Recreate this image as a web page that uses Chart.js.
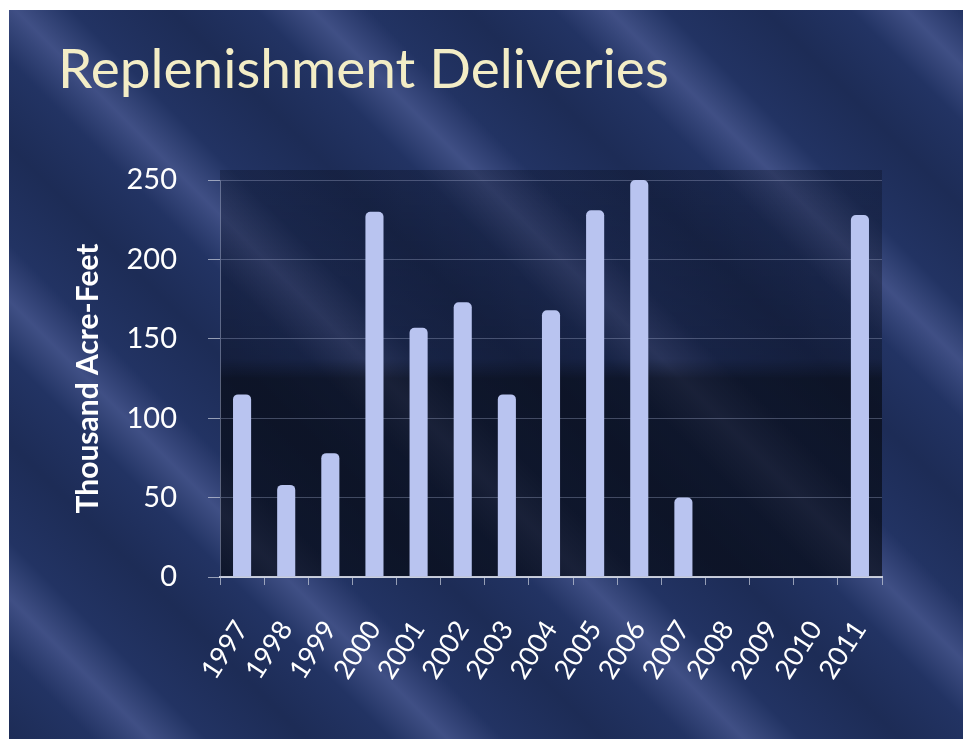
<!DOCTYPE html>
<html>
<head>
<meta charset="utf-8">
<script src="https://cdn.jsdelivr.net/npm/chart.js@4.4.1/dist/chart.umd.min.js"></script>
<style>
  html, body { margin: 0; padding: 0; background: #ffffff; }
  body { width: 963px; height: 739px; position: relative; overflow: hidden; }
  #bg {
    position: absolute; left: 9px; top: 10px; width: 954px; height: 729px;
    background:
      repeating-linear-gradient(45deg,
        rgba(10, 18, 40, 0.30) 0px, rgba(10, 18, 40, 0.10) 60px,
        rgba(125, 135, 195, 0.30) 100px, rgba(10, 18, 40, 0.10) 140px,
        rgba(10, 18, 40, 0.30) 210px),
      #25376a;
  }
  #title {
    position: absolute; left: 58px; top: 40px;
    font-family: Lato, "Open Sans", sans-serif; font-size: 55px; line-height: 1;
    color: #f3edc6; white-space: nowrap;
  }
  #chart { position: absolute; left: 0; top: 0; }
</style>
</head>
<body>
<div id="bg"></div>
<div id="title">Replenishment Deliveries</div>
<canvas id="chart" width="963" height="739"></canvas>
<script>
// --- DATA ---
const years = ['1997', '1998', '1999', '2000', '2001', '2002', '2003', '2004',
               '2005', '2006', '2007', '2008', '2009', '2010', '2011'];
const deliveries = [115, 58, 78, 230, 157, 173, 115, 168, 231, 250, 50, 0, 0, 0, 228];
const yTicks = [0, 50, 100, 150, 200, 250];
const yTitle = 'Thousand Acre-Feet';

// darker backdrop behind the plot area
const plotBackdrop = {
  id: 'plotBackdrop',
  beforeDraw(chart) {
    const { ctx, chartArea: a } = chart;
    const g = ctx.createLinearGradient(0, a.top, 0, a.bottom);
    g.addColorStop(0, 'rgba(8, 12, 25, 0.30)');
    g.addColorStop(0.45, 'rgba(8, 12, 25, 0.40)');
    g.addColorStop(0.5, 'rgba(5, 8, 15, 0.65)');
    g.addColorStop(1, 'rgba(5, 8, 15, 0.65)');
    ctx.save();
    ctx.fillStyle = g;
    ctx.fillRect(a.left, a.top - 10, a.right - a.left, a.bottom - a.top + 10);
    ctx.restore();
  }
};

const font = 'Lato, "Open Sans", sans-serif';

new Chart(document.getElementById('chart'), {
  type: 'bar',
  data: {
    labels: years,
    datasets: [{
      data: deliveries,
      backgroundColor: '#b9c4f0',
      borderWidth: 0,
      borderRadius: { topLeft: 5, topRight: 5 },
      borderSkipped: 'bottom',
      barPercentage: 0.41,
      categoryPercentage: 1
    }]
  },
  options: {
    responsive: false,
    animation: false,
    devicePixelRatio: 1,
    layout: { padding: { left: 66, right: 81, top: 180, bottom: 0 } },
    plugins: {
      legend: { display: false },
      tooltip: { enabled: false }
    },
    scales: {
      x: {
        grid: { drawOnChartArea: false, tickLength: 8, tickColor: 'rgba(200, 205, 220, 0.7)' },
        border: { color: 'rgba(215, 220, 232, 0.9)', width: 2 },
        ticks: {
          color: '#ffffff',
          font: { family: font, size: 27 },
          minRotation: 57, maxRotation: 57,
          padding: 30,
          autoSkip: false
        },
        afterFit(scale) { scale.height = 162; }
      },
      y: {
        min: 0, max: 250,
        afterBuildTicks(scale) { scale.ticks = yTicks.map(v => ({ value: v })); },
        ticks: { color: '#ffffff', font: { family: font, size: 29 }, padding: 31 },
        grid: { color: 'rgba(165, 175, 205, 0.35)', tickLength: 12, tickColor: 'rgba(200, 205, 220, 0.7)' },
        border: { color: 'rgba(165, 175, 205, 0.5)' },
        title: {
          display: true, text: yTitle, color: '#ffffff',
          font: { family: font, size: 30, weight: 'bold' },
          padding: { top: 4, bottom: 0 }
        },
        afterFit(scale) { scale.width = 154; }
      }
    }
  },
  plugins: [plotBackdrop]
});
</script>
</body>
</html>
